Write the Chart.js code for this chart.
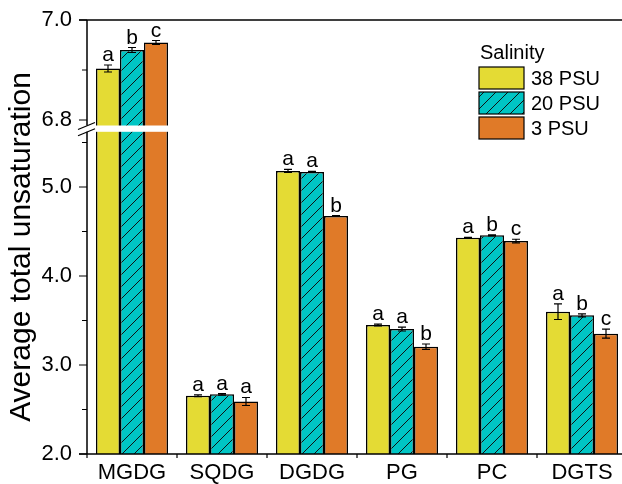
<!DOCTYPE html>
<html>
<head>
<meta charset="utf-8">
<script src="https://cdn.jsdelivr.net/npm/chart.js@4/dist/chart.umd.min.js"></script>
<style>
  html, body { margin: 0; padding: 0; background: #fff; overflow: hidden; }
  #wrap { width: 622px; height: 484px; overflow: hidden; }
  canvas { display: block; }
</style>
</head>
<body>
<div id="wrap"><canvas id="chart" width="640" height="484"></canvas></div>
<script>
// Lipid classes and salinity treatments
const categories = ['MGDG', 'SQDG', 'DGDG', 'PG', 'PC', 'DGTS'];
const salinityLabels = ['38 PSU', '20 PSU', '3 PSU'];
const legendTitle = 'Salinity';
const yTitle = 'Average total unsaturation';

// Mean average total unsaturation per lipid class
const psu38 = [6.903, 2.655, 5.180, 3.449, 4.430, 3.599];
const psu20 = [6.940, 2.670, 5.169, 3.404, 4.457, 3.558];
const psu3  = [6.955, 2.590, 4.674, 3.206, 4.393, 3.352];

// Standard deviations
const err38 = [0.007, 0.010, 0.017, 0.010, 0.005, 0.088];
const err20 = [0.005, 0.008, 0.006, 0.022, 0.006, 0.017];
const err3  = [0.004, 0.045, 0.005, 0.030, 0.020, 0.050];

// Significance letters
const letters38 = ['a', 'a', 'a', 'a', 'a', 'a'];
const letters20 = ['b', 'a', 'a', 'a', 'b', 'b'];
const letters3  = ['c', 'a', 'b', 'b', 'c', 'c'];

// Value axis: labelled ticks, minor ticks and the broken interval
const yTickValues = [2.0, 3.0, 4.0, 5.0, 6.8, 7.0];
const yMinorValues = [2.5, 3.5, 4.5, 5.5, 6.9];
const axisBreak = [5.62, 6.789];

const YELLOW = '#E4DB34';
const TEAL = '#00C5C4';
const ORANGE = '#E07A28';
const FONT = '"Liberation Sans", Arial, sans-serif';

const errors = [err38, err20, err3];
const letters = [letters38, letters20, letters3];

// Linear scale with a gap between axisBreak[0] and axisBreak[1]
class BrokenLinearScale extends Chart.LinearScale {
  buildTicks() {
    return yTickValues.map(v => ({ value: v }));
  }
  _parts() {
    const h = this.bottom - this.top;
    return { low: h * 0.7424, high: h * 0.2431 };
  }
  getPixelForValue(value) {
    if (value === null || value === undefined || isNaN(value)) return NaN;
    const p = this._parts();
    const [b0, b1] = axisBreak;
    if (value <= b0) {
      return this.bottom - (value - this.min) / (b0 - this.min) * p.low;
    }
    if (value >= b1) {
      return this.top + (this.max - value) / (this.max - b1) * p.high;
    }
    const yLow = this.bottom - p.low, yHigh = this.top + p.high;
    return yLow + (value - b0) / (b1 - b0) * (yHigh - yLow);
  }
  getValueForPixel(pixel) {
    const p = this._parts();
    const [b0, b1] = axisBreak;
    const yLow = this.bottom - p.low, yHigh = this.top + p.high;
    if (pixel >= yLow) return this.min + (this.bottom - pixel) / p.low * (b0 - this.min);
    if (pixel <= yHigh) return this.max - (pixel - this.top) / p.high * (this.max - b1);
    return b0 + (pixel - yLow) / (yHigh - yLow) * (b1 - b0);
  }
  gapPixels() {
    const p = this._parts();
    return [this.top + p.high, this.bottom - p.low];
  }
}
BrokenLinearScale.id = 'brokenLinear';
BrokenLinearScale.defaults = Chart.LinearScale.defaults;
Chart.register(BrokenLinearScale);

// Diagonal hatch fill for the 20 PSU bars
function makeHatch(bg) {
  const s = 12;
  const c = document.createElement('canvas');
  c.width = s; c.height = s;
  const g = c.getContext('2d');
  g.fillStyle = bg;
  g.fillRect(0, 0, s, s);
  g.strokeStyle = '#111';
  g.lineWidth = 1;
  g.beginPath();
  g.moveTo(-1, s + 1); g.lineTo(s + 1, -1);
  g.moveTo(-2, 2); g.lineTo(2, -2);
  g.moveTo(s - 2, s + 2); g.lineTo(s + 2, s - 2);
  g.stroke();
  return g.createPattern(c, 'repeat');
}
const hatch = makeHatch(TEAL);
const fills = [YELLOW, hatch, ORANGE];

const decor = {
  id: 'decor',
  afterDatasetsDraw(chart) {
    const ctx = chart.ctx;
    const area = chart.chartArea;
    const y = chart.scales.y;
    ctx.save();

    // error bars and significance letters
    chart.data.datasets.forEach((ds, di) => {
      const meta = chart.getDatasetMeta(di);
      meta.data.forEach((bar, i) => {
        const v = ds.data[i];
        const e = errors[di][i];
        const yTop = y.getPixelForValue(v + e);
        const yBot = y.getPixelForValue(v - e);
        const cx = bar.x;
        ctx.strokeStyle = '#000';
        ctx.lineWidth = 1.2;
        ctx.beginPath();
        ctx.moveTo(cx, yTop); ctx.lineTo(cx, yBot);
        ctx.moveTo(cx - 4, yTop); ctx.lineTo(cx + 4, yTop);
        ctx.moveTo(cx - 4, yBot); ctx.lineTo(cx + 4, yBot);
        ctx.stroke();
        ctx.fillStyle = '#000';
        ctx.font = '21px ' + FONT;
        ctx.textAlign = 'center';
        ctx.textBaseline = 'alphabetic';
        ctx.fillText(letters[di][i], cx, yTop - 4);
      });
    });

    // white band across the axis break
    const [gTop, gBot] = y.gapPixels();
    const lastBar = chart.getDatasetMeta(2).data[0];
    const bandRight = lastBar.x + lastBar.width / 2 + 2;
    ctx.fillStyle = '#fff';
    ctx.fillRect(area.left - 7, gTop, bandRight - (area.left - 7), gBot - gTop);

    // axis lines
    ctx.strokeStyle = '#000';
    ctx.lineWidth = 1.5;
    ctx.beginPath();
    ctx.moveTo(area.left, area.top); ctx.lineTo(area.left, gTop);
    ctx.moveTo(area.left, gBot); ctx.lineTo(area.left, area.bottom);
    ctx.moveTo(area.left - 8, area.bottom); ctx.lineTo(area.right, area.bottom);
    ctx.moveTo(area.left - 8, area.top); ctx.lineTo(area.right, area.top);
    ctx.stroke();

    // y ticks
    ctx.lineWidth = 1.2;
    ctx.beginPath();
    yTickValues.forEach(v => {
      const py = y.getPixelForValue(v);
      ctx.moveTo(area.left - 8, py); ctx.lineTo(area.left, py);
    });
    yMinorValues.forEach(v => {
      const py = y.getPixelForValue(v);
      ctx.moveTo(area.left - 5, py); ctx.lineTo(area.left, py);
    });
    // x ticks at category boundaries
    const step = (area.right - area.left) / categories.length;
    for (let k = 0; k <= categories.length; k++) {
      const px = area.left + k * step;
      ctx.moveTo(px, area.bottom); ctx.lineTo(px, area.bottom + 4);
    }
    ctx.stroke();

    // break marks
    ctx.lineWidth = 1.2;
    ctx.beginPath();
    ctx.moveTo(area.left - 9, gTop + 4); ctx.lineTo(area.left + 8, gTop - 3);
    ctx.moveTo(area.left - 9, gBot + 4); ctx.lineTo(area.left + 8, gBot - 3);
    ctx.stroke();

    // legend
    const lx = 479, ly = 67, bw = 45, bh = 22, gap = 25;
    ctx.fillStyle = '#000';
    ctx.font = '20px ' + FONT;
    ctx.textAlign = 'left';
    ctx.textBaseline = 'middle';
    ctx.fillText(legendTitle, lx + 1, 53);
    chart.data.datasets.forEach((ds, di) => {
      const by = ly + di * gap;
      ctx.fillStyle = fills[di];
      ctx.fillRect(lx, by, bw, bh);
      ctx.strokeStyle = '#000';
      ctx.lineWidth = 1.2;
      ctx.strokeRect(lx, by, bw, bh);
      ctx.fillStyle = '#000';
      ctx.fillText(ds.label, lx + bw + 7, by + bh / 2 + 1);
    });

    // value axis title
    ctx.save();
    ctx.translate(22, 247);
    ctx.rotate(-Math.PI / 2);
    ctx.font = '30px ' + FONT;
    ctx.textAlign = 'center';
    ctx.textBaseline = 'middle';
    ctx.fillStyle = '#000';
    ctx.fillText(yTitle, 0, 0);
    ctx.restore();

    ctx.restore();
  }
};

const series = [psu38, psu20, psu3];
new Chart(document.getElementById('chart'), {
  type: 'bar',
  data: {
    labels: categories,
    datasets: series.map((d, i) => ({
      label: salinityLabels[i],
      data: d,
      backgroundColor: fills[i],
      borderColor: '#000',
      borderWidth: 1.5,
      borderSkipped: 'start',
      base: 2,
      categoryPercentage: 0.8,
      barPercentage: 1.0
    }))
  },
  options: {
    responsive: false,
    animation: false,
    devicePixelRatio: 1,
    layout: { padding: { top: 20, right: 13, left: 0, bottom: 0 } },
    plugins: { legend: { display: false }, tooltip: { enabled: false } },
    scales: {
      x: {
        grid: { display: false, drawTicks: false },
        border: { display: false },
        ticks: { color: '#000', font: { family: FONT, size: 22 }, padding: 6 },
        afterFit(s) { s.height = 30; s.paddingLeft = 0; s.paddingRight = 0; }
      },
      y: {
        type: 'brokenLinear',
        min: 2,
        max: 7,
        grid: { display: false, drawTicks: false },
        border: { display: false },
        ticks: {
          color: '#000',
          font: { family: FONT, size: 22 },
          padding: 15,
          autoSkip: false,
          callback: v => Number(v).toFixed(1)
        },
        afterFit(s) { s.width = 87; s.paddingTop = 0; s.paddingBottom = 0; }
      }
    }
  },
  plugins: [decor]
});
</script>
</body>
</html>
